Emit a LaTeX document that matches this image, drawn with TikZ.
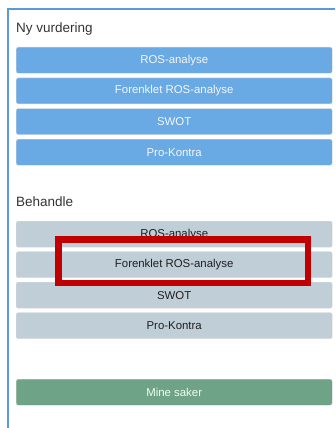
\documentclass[tikz,border=0pt]{standalone}
\usepackage{fontspec}
\setmainfont{Liberation Sans}
\definecolor{frameblue}{RGB}{91,155,213}
\definecolor{btnblue}{RGB}{106,170,228}
\definecolor{btngrey}{RGB}{192,206,216}
\definecolor{btngreen}{RGB}{111,163,135}
\definecolor{hlred}{RGB}{192,0,0}
\definecolor{headtext}{RGB}{51,51,51}
\begin{document}
\begin{tikzpicture}[x=1pt,y=-1pt,
  btn/.style={draw=white!85!black,line width=0.4pt,rounded corners=2pt,minimum width=316pt,minimum height=26pt,inner sep=0pt,anchor=north west,font=\fontsize{11.4}{13}\selectfont},
  bluebtn/.style={btn,fill=btnblue,text=white!96!black},
  greybtn/.style={btn,fill=btngrey,text=black!88},
  greenbtn/.style={btn,fill=btngreen,text=white!92!green},
  heading/.style={anchor=base west,inner sep=0pt,text=headtext,font=\fontsize{13.5}{16}\selectfont},
  highlight/.style={draw=hlred,line width=6.5pt}]
\useasboundingbox (0,0) rectangle (335,428);
\fill[white] (0,0) rectangle (335,428);
\draw[frameblue,line width=2pt] (335,9.5) -- (7.5,9.5) -- (7.5,428);
\node[heading] (h1) at (16,33) {Ny vurdering};
\node[bluebtn] (b1) at (16,47) {ROS-analyse};
\node[bluebtn] (b2) at (16,77.7) {Forenklet ROS-analyse};
\node[bluebtn] (b3) at (16,108.3) {SWOT};
\node[bluebtn] (b4) at (16,139) {Pro-Kontra};
\node[heading] (h2) at (16,206) {Behandle};
\node[greybtn] (g1) at (16,221) {ROS-analyse};
\node[greybtn] (g2) at (16,251.5) {Forenklet ROS-analyse};
\node[greybtn] (g3) at (16,282) {SWOT};
\node[greybtn] (g4) at (16,312.5) {Pro-Kontra};
\node[greenbtn] (m1) at (16,379) {Mine saker};
\draw[highlight] (58.7,239.7) rectangle (308.2,282.8);
\end{tikzpicture}
\end{document}
